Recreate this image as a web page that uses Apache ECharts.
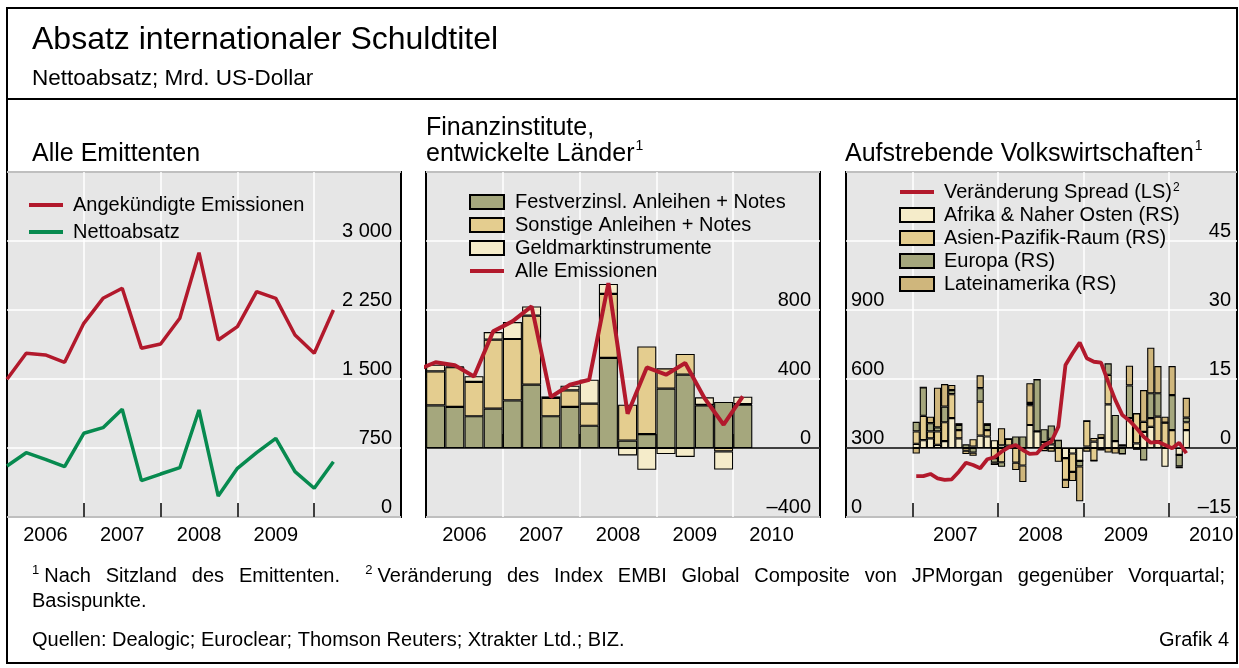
<!DOCTYPE html>
<html>
<head>
<meta charset="utf-8">
<title>Absatz internationaler Schuldtitel</title>
<script src="https://cdn.jsdelivr.net/npm/echarts@6/dist/echarts.min.js"></script>
<style>
html, body { margin: 0; padding: 0; background: #fff; }
#chart { width: 1239px; height: 668px; }
</style>
</head>
<body>
<div id="chart"></div>
<script>
// Alle Emittenten: quarterly, 2006 Q1 .. 2010 Q2
var emissionen = [1497, 1779, 1761, 1681, 2105, 2377, 2486, 1834, 1880, 2160, 2873, 1924, 2069, 2449, 2377, 1978, 1779, 2250];
var nettoabsatz = [554, 699, 627, 547, 910, 971, 1171, 395, 467, 536, 1163, 228, 529, 699, 855, 493, 312, 601];

// Finanzinstitute, entwickelte Laender: quarterly, 2006 Q1 .. 2010 Q1
var festverzinsl = [247, 238, 184, 228, 276, 367, 184, 238, 129, 522, 43, 81, 344, 425, 247, 267, 251];
var sonstige = [197, 230, 199, 400, 356, 400, 106, 96, 128, 371, 208, 508, 118, 120, 3, -20, 4];
var geldmarkt = [39, 5, 33, 44, 98, 54, 9, 27, 139, 58, -43, -126, -35, -52, 44, -105, 42];
// starts one quarter earlier (2005 Q4)
var alleEmissionen = [450, 497, 480, 415, 676, 734, 821, 296, 367, 396, 956, 199, 467, 425, 493, 290, 135, 299];

// Aufstrebende Volkswirtschaften: monthly, Jan 2007 .. Mar 2010
var spread = [178, 178, 187, 168, 161, 164, 197, 236, 226, 212, 251, 260, 284, 303, 313, 291, 274, 277, 313, 327,
  393, 661, 712, 758, 690, 675, 671, 588, 509, 443, 419, 386, 349, 323, 327, 313, 299, 323, 277];
var afrika = [0.9, 1.7, 2.1, 0.7, 1.5, 6.5, 2.1, 0, 0.3, 2.7, 2.5, 1.7, 0.6, 0.5, 0, -0.3, 5.0, 3.6, 0.5, 0.8,
  0, -2.2, -1.2, -2.8, 0.3, 1.4, 2.2, 9.5, 1.5, 0.3, 6.5, 1.0, 3.5, 4.6, 1.5, -4.1, 0, -1.5, 3.9];
var asien = [2.7, 5.3, 1.5, 2.9, 4.1, 5.2, 1.8, -0.6, 1.6, 7.4, 1.4, -2.2, -3.1, 1.5, -3.2, -3.5, 4.3, 0, 0.8, 1.2,
  -3.0, -4.7, -4.0, 0, 5.6, -2.8, 0.8, 6.4, 0, 0.5, 0, 6.5, 2.2, 1.9, 5.3, 5.5, 3.9, 0, 1.7];
var europa = [2.1, 6.2, 1.8, 0.9, 3.4, 0.9, 1.1, 0.8, -1.0, 2.9, 1.1, -1.0, -1.0, 0, 2.5, 2.5, 0.5, 11.3, 2.8, 2.9,
  1.7, 0, 0, -1.2, 0, 0, -0.4, 2.5, 5.7, -1.3, 7.1, 0, -2.7, 5.4, 5.1, 0, 7.6, -2.5, 1.0];
var lateinamerika = [-1.2, 0, 1.4, 8.6, 4.9, 1.1, 0.4, -0.7, -0.7, 2.8, 0.4, -0.5, 3.7, -0.2, -1.6, -3.6, 4.3, 0, -0.7, -0.8,
  0, -1.8, -2.0, -7.6, -0.8, 0.8, 0, -1.0, -1.2, 0, 4.3, -0.4, 6.9, 9.9, 5.9, 1.3, 6.3, -0.4, 4.3];

var yearsQuarterly = ['2006', '2007', '2008', '2009', '2010'];
var yearsMonthly = ['2007', '2008', '2009', '2010'];

var FONT = '"Liberation Sans", Arial, Helvetica, sans-serif';
var RED = '#b2192c', GREEN = '#078a4f';
var OLIVE = '#a5a77d', TAN = '#e4cd8f', CREAM = '#f5ecca', DARKTAN = '#cfb67c';
// legend line icon: a 4px band inside a 34x14 box
var LINE_ICON = 'path://M0,0L0.01,0Z M0,5L34,5L34,9L0,9Z M0,14L0.01,14Z';

var myChart = echarts.init(document.getElementById('chart'));

function pairs(values, offset) {
  return values.map(function (v, i) { return [i + offset, v]; });
}
// value first, so the stack is summed on y
function stackPairs(values, offset) {
  return values.map(function (v, i) { return [v, i + offset]; });
}

function numLabel(v) {
  var s = String(Math.abs(v)).replace(/\B(?=(\d{3})+(?!\d))/g, ' ');
  return v < 0 ? '\u2013' + s : s;
}

function xAxis(gridIndex, min, max, ticks, labelAt, labels) {
  return {
    type: 'value', gridIndex: gridIndex, min: min, max: max,
    axisLine: { show: false },
    axisTick: { show: true, inside: true, length: 14, customValues: ticks, lineStyle: { color: '#000', width: 1.5 } },
    splitLine: { show: true, lineStyle: { color: '#fff', width: 1.5 } },
    axisLabel: {
      customValues: labelAt, margin: 8, fontSize: 20, color: '#000', fontFamily: FONT,
      formatter: function (v) { return labels[labelAt.indexOf(v)] || ''; }
    }
  };
}

function yAxis(gridIndex, pos, min, max, interval, maxShown, margin, split) {
  return {
    type: 'value', gridIndex: gridIndex, position: pos, min: min, max: max, interval: interval,
    axisLine: { show: false }, axisTick: { show: false },
    splitLine: { show: split, lineStyle: { color: '#fff', width: 1.5 } },
    axisLabel: {
      inside: true, margin: margin, fontSize: 20, color: '#000', fontFamily: FONT, verticalAlign: 'bottom',
      formatter: function (v) { return v > maxShown ? '' : numLabel(v); }
    }
  };
}

function barSeries(name, values, color, xi, yi, stack, width, offset) {
  return {
    name: name, type: 'bar', xAxisIndex: xi, yAxisIndex: yi, stack: stack, barWidth: width,
    data: stackPairs(values, offset), encode: { x: 1, y: 0 },
    itemStyle: { color: color, borderColor: '#000', borderWidth: 1.1 },
    emphasis: { disabled: true }
  };
}

function lineSeries(name, values, color, xi, yi, offset, width) {
  return {
    name: name, type: 'line', xAxisIndex: xi, yAxisIndex: yi, data: pairs(values, offset),
    symbol: 'none', lineStyle: { color: color, width: width }, itemStyle: { color: color },
    emphasis: { disabled: true }, z: 5
  };
}

function lineItem(name) {
  return { name: name, icon: LINE_ICON, itemStyle: { borderWidth: 0 }, lineStyle: { width: 0 } };
}

var zeroLine = { silent: true, symbol: 'none', label: { show: false }, lineStyle: { color: '#000', width: 1.5, type: 'solid' }, data: [{ yAxis: 0 }] };

// footnote line, justified between x=32 and x=1225
var ctx = document.createElement('canvas').getContext('2d');
function tw(s, size) { ctx.font = size + 'px ' + FONT; return ctx.measureText(s).width; }
var noteWords = [['1', 'Nach'], ['', 'Sitzland'], ['', 'des'], ['', 'Emittenten.'], ['2', 'Veränderung'], ['', 'des'],
  ['', 'Index'], ['', 'EMBI'], ['', 'Global'], ['', 'Composite'], ['', 'von'], ['', 'JPMorgan'], ['', 'gegenüber'], ['', 'Vorquartal;']];
var gapWeights = noteWords.map(function (w, i) { return i === 0 ? 0 : (i === 4 ? 1.7 : 1); });
var noteW = noteWords.map(function (w) { return (w[0] ? tw(w[0], 13) + 5 : 0) + tw(w[1], 20); });
var usedW = noteW.reduce(function (a, b) { return a + b; }, 0);
var unit = (1225 - 32 - usedW) / gapWeights.reduce(function (a, b) { return a + b; }, 0);
var noteEls = [];
var nx = 32;
noteWords.forEach(function (w, i) {
  nx += gapWeights[i] * unit;
  var x = nx;
  if (w[0]) {
    noteEls.push({ type: 'text', x: x, y: 570, style: { text: w[0], font: '13px ' + FONT, fill: '#000', verticalAlign: 'middle' } });
    x += tw(w[0], 13) + 5;
  }
  noteEls.push({ type: 'text', x: x, y: 576, style: { text: w[1], font: '20px ' + FONT, fill: '#000', verticalAlign: 'middle' } });
  nx += noteW[i];
});

function txt(x, y, s, size, align) {
  return { type: 'text', x: x, y: y, style: { text: s, font: size + 'px ' + FONT, fill: '#000', align: align || 'left', verticalAlign: 'middle' } };
}

var option = {
  animation: false,
  textStyle: { fontFamily: FONT },
  grid: [
    { left: 7, top: 172, width: 394, height: 345, show: true, backgroundColor: '#e6e6e6', borderColor: '#000', borderWidth: 2 },
    { left: 426, top: 172, width: 394, height: 345, show: true, backgroundColor: '#e6e6e6', borderColor: '#000', borderWidth: 2 },
    { left: 846, top: 172, width: 391, height: 345, show: true, backgroundColor: '#e6e6e6', borderColor: '#000', borderWidth: 2 }
  ],
  xAxis: [
    xAxis(0, 0, 20.52, [4, 8, 12, 16], [2, 6, 10, 14], yearsQuarterly),
    xAxis(1, 0, 20.52, [4, 8, 12, 16], [2, 6, 10, 14, 18], yearsQuarterly),
    xAxis(2, -9.38, 45.63, [0, 12, 24, 36], [6, 18, 30, 42], yearsMonthly)
  ],
  yAxis: [
    yAxis(0, 'right', 0, 3750, 750, 3000, 9, true),
    yAxis(1, 'right', -400, 1600, 400, 800, 9, true),
    yAxis(2, 'left', 0, 1500, 300, 900, 5, true),
    yAxis(2, 'right', -15, 60, 15, 45, 6, false)
  ],
  legend: [
    {
      left: 29, top: 195, orient: 'vertical', padding: 0, itemGap: 7, itemWidth: 34, itemHeight: 14, selectedMode: false,
      textStyle: { fontSize: 20, color: '#000', padding: [0, 0, 0, 5] },
      data: [lineItem('Angekündigte Emissionen'), lineItem('Nettoabsatz')]
    },
    {
      left: 469, top: 192, orient: 'vertical', padding: 0, itemGap: 3, itemWidth: 34, itemHeight: 14, selectedMode: false,
      textStyle: { fontSize: 20, color: '#000', padding: [0, 0, 0, 6] },
      data: [{ name: 'Festverzinsl. Anleihen + Notes', icon: 'rect' }, { name: 'Sonstige Anleihen + Notes', icon: 'rect' },
        { name: 'Geldmarktinstrumente', icon: 'rect' }, lineItem('Alle Emissionen')]
    },
    {
      left: 899, top: 182, orient: 'vertical', padding: 0, itemGap: 3, itemWidth: 34, itemHeight: 14, selectedMode: false,
      textStyle: { fontSize: 20, color: '#000', padding: [0, 0, 0, 5], rich: { s: { fontSize: 12, verticalAlign: 'top', padding: [0, 0, 8, 1] } } },
      formatter: function (name) { return name === 'Veränderung Spread (LS)' ? name + '{s|2}' : name; },
      data: [lineItem('Veränderung Spread (LS)'), { name: 'Afrika & Naher Osten (RS)', icon: 'rect' }, { name: 'Asien-Pazifik-Raum (RS)', icon: 'rect' },
        { name: 'Europa (RS)', icon: 'rect' }, { name: 'Lateinamerika (RS)', icon: 'rect' }]
    }
  ],
  series: [
    lineSeries('Angekündigte Emissionen', emissionen, RED, 0, 0, 0, 3.5),
    lineSeries('Nettoabsatz', nettoabsatz, GREEN, 0, 0, 0, 3.5),

    Object.assign(barSeries('Festverzinsl. Anleihen + Notes', festverzinsl, OLIVE, 1, 1, 'fi', 19, 0.5), { markLine: zeroLine }),
    barSeries('Sonstige Anleihen + Notes', sonstige, TAN, 1, 1, 'fi', 19, 0.5),
    barSeries('Geldmarktinstrumente', geldmarkt, CREAM, 1, 1, 'fi', 19, 0.5),
    lineSeries('Alle Emissionen', alleEmissionen, RED, 1, 1, -0.5, 4),

    Object.assign(barSeries('Afrika & Naher Osten (RS)', afrika, CREAM, 2, 3, 'em', 7.2, 0.5), { markLine: zeroLine }),
    barSeries('Asien-Pazifik-Raum (RS)', asien, TAN, 2, 3, 'em', 7.2, 0.5),
    barSeries('Europa (RS)', europa, OLIVE, 2, 3, 'em', 7.2, 0.5),
    barSeries('Lateinamerika (RS)', lateinamerika, DARKTAN, 2, 3, 'em', 7.2, 0.5),
    lineSeries('Veränderung Spread (LS)', spread, RED, 2, 2, 0.5, 3.8)
  ],
  graphic: [
    { type: 'rect', shape: { x: 7, y: 8, width: 1230, height: 655 }, style: { fill: 'none', stroke: '#000', lineWidth: 2 }, silent: true },
    { type: 'line', shape: { x1: 7, y1: 99, x2: 1237, y2: 99 }, style: { stroke: '#000', lineWidth: 2 }, silent: true },
    txt(32, 40, 'Absatz internationaler Schuldtitel', 32),
    txt(32, 79, 'Nettoabsatz; Mrd. US-Dollar', 22.5),
    txt(32, 154, 'Alle Emittenten', 25),
    txt(426, 128, 'Finanzinstitute,', 25),
    txt(426, 154, 'entwickelte Länder', 25),
    txt(426 + tw('entwickelte Länder', 25) + 1, 146, '1', 14),
    txt(845, 154, 'Aufstrebende Volkswirtschaften', 25),
    txt(845 + tw('Aufstrebende Volkswirtschaften', 25) + 1, 146, '1', 14),
    txt(32, 601, 'Basispunkte.', 20),
    txt(32, 640, 'Quellen: Dealogic; Euroclear; Thomson Reuters; Xtrakter Ltd.; BIZ.', 20),
    txt(1229, 640, 'Grafik 4', 20, 'right')
  ].concat(noteEls)
};

myChart.setOption(option);
</script>
</body>
</html>
